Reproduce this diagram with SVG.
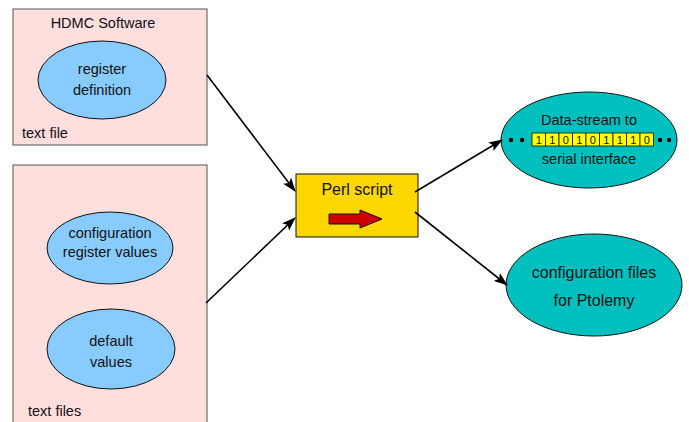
<svg xmlns="http://www.w3.org/2000/svg" width="689" height="422" viewBox="0 0 689 422">
<style>
text{font-family:"Liberation Sans",Arial,sans-serif;fill:#111;}
.t{font-size:14.5px;}
.big{font-size:16px;}
.c{text-anchor:middle;}
.box{fill:#ffdede;stroke:#555;stroke-width:1;}
.blue{fill:#88ccff;stroke:#111;stroke-width:1;}
.teal{fill:#00bfbf;stroke:#111;stroke-width:1;}
.edge{stroke:#000;stroke-width:1.6;fill:none;marker-end:url(#ah);}
.bit{fill:#ffff00;stroke:#111;stroke-width:0.8;}
.bt{font-size:11px;text-anchor:middle;}
</style>
<defs>
<marker id="ah" viewBox="0 0 14 10" refX="13" refY="5" markerWidth="14" markerHeight="10" markerUnits="userSpaceOnUse" orient="auto">
<path d="M0,0 L14,5 L0,10 L3,5 Z" fill="#000"/>
</marker>
</defs>
<rect width="689" height="422" fill="#fff"/>
<g id="textfile">
<rect class="box" x="13" y="9" width="194" height="136"/>
<text class="t c" x="103" y="28">HDMC Software</text>
<text class="t" x="22" y="138">text file</text>
</g>
<g id="regdef">
<ellipse class="blue" cx="102" cy="80" rx="64" ry="39"/>
<text class="t c" x="102" y="74">register</text>
<text class="t c" x="102" y="95">definition</text>
</g>
<g id="textfiles">
<rect class="box" x="13" y="165" width="194" height="270"/>
<text class="t" x="28" y="416">text files</text>
</g>
<g id="confreg">
<ellipse class="blue" cx="110" cy="248" rx="63" ry="36"/>
<text class="t c" x="110" y="238">configuration</text>
<text class="t c" x="110" y="257">register values</text>
</g>
<g id="defaults">
<ellipse class="blue" cx="111" cy="349" rx="64" ry="40"/>
<text class="t c" x="111" y="346">default</text>
<text class="t c" x="111" y="367">values</text>
</g>
<g id="perl">
<rect x="296" y="174" width="122" height="63" fill="#ffd700" stroke="#111" stroke-width="1"/>
<text class="big c" x="357" y="195">Perl script</text>
<path d="M329,214 L360,214 L360,210 L382,219 L360,228 L360,224 L329,224 Z" fill="#cc0000" stroke="#111" stroke-width="1"/>
</g>
<g id="datastream">
<ellipse class="teal" cx="589" cy="140" rx="88" ry="48"/>
<text class="t c" x="589" y="125">Data-stream to</text>
<g>
<rect class="bit" x="532" y="133" width="13.5" height="13"/>
<rect class="bit" x="545.5" y="133" width="13.5" height="13"/>
<rect class="bit" x="559" y="133" width="13.5" height="13"/>
<rect class="bit" x="572.5" y="133" width="13.5" height="13"/>
<rect class="bit" x="586" y="133" width="13.5" height="13"/>
<rect class="bit" x="599.5" y="133" width="13.5" height="13"/>
<rect class="bit" x="613" y="133" width="13.5" height="13"/>
<rect class="bit" x="626.5" y="133" width="13.5" height="13"/>
<rect class="bit" x="640" y="133" width="13.5" height="13"/>
<text class="bt" x="538.75" y="144">1</text>
<text class="bt" x="552.25" y="144">1</text>
<text class="bt" x="565.75" y="144">0</text>
<text class="bt" x="579.25" y="144">1</text>
<text class="bt" x="592.75" y="144">0</text>
<text class="bt" x="606.25" y="144">1</text>
<text class="bt" x="619.75" y="144">1</text>
<text class="bt" x="633.25" y="144">1</text>
<text class="bt" x="646.75" y="144">0</text>
</g>
<circle cx="511" cy="140" r="2.2" fill="#000"/>
<circle cx="522" cy="140" r="2.2" fill="#000"/>
<circle cx="660" cy="140" r="2.2" fill="#000"/>
<circle cx="669" cy="140" r="2.2" fill="#000"/>
<text class="t c" x="589" y="164">serial interface</text>
</g>
<g id="ptolemy">
<ellipse class="teal" cx="594" cy="285" rx="88" ry="51"/>
<text class="big c" x="594" y="278">configuration files</text>
<text class="big c" x="594" y="306">for Ptolemy</text>
</g>
<g id="connectors">
<line class="edge" x1="207" y1="75" x2="295" y2="191"/>
<line class="edge" x1="206" y1="303" x2="295" y2="218"/>
<line class="edge" x1="415" y1="192" x2="502" y2="140"/>
<line class="edge" x1="415" y1="212" x2="507" y2="285"/>
</g>
</svg>
